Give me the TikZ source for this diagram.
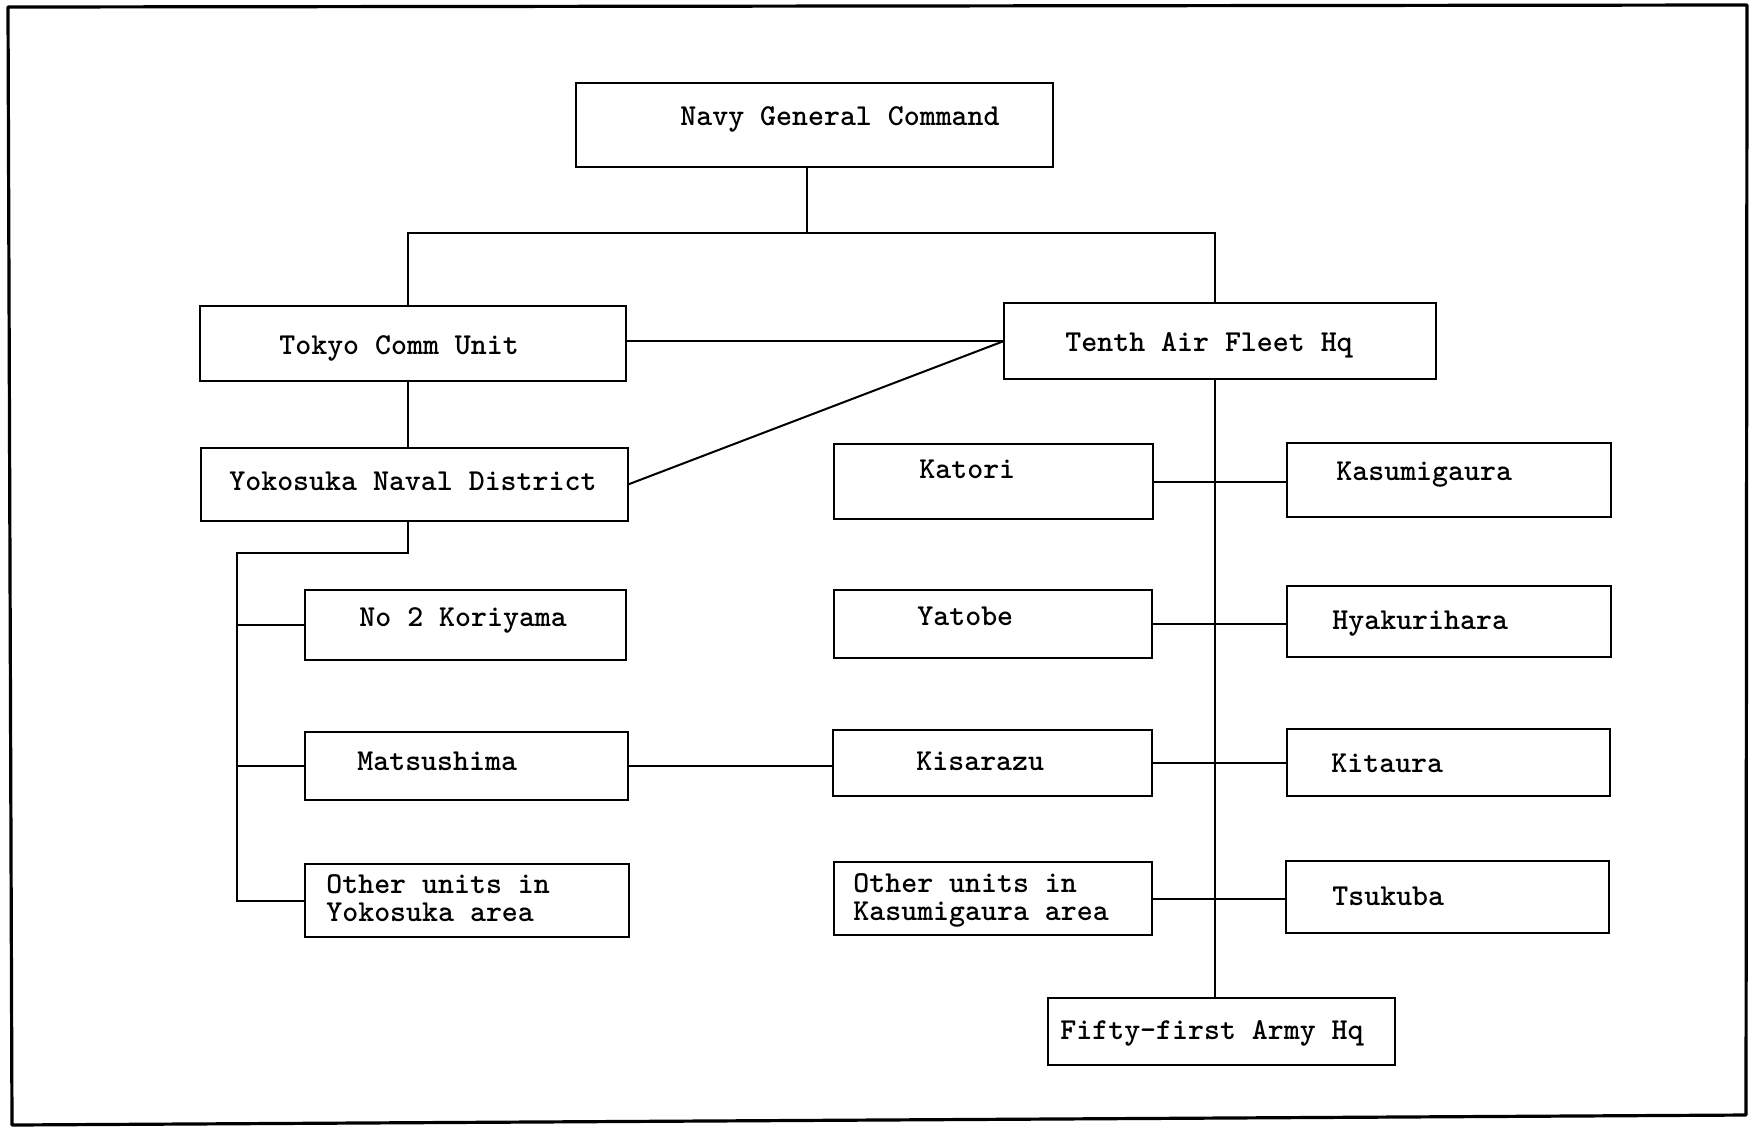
\documentclass[tikz,border=0pt]{standalone}
\usepackage{fontspec}
\newcommand\typewriterfont{\ttfamily\bfseries\fontsize{15.2}{14}\selectfont}
\begin{document}
\begin{tikzpicture}[x=0.5pt,y=-0.5pt,
  box/.style={draw, line width=1pt, rectangle, inner sep=0pt, outer sep=0pt},
  label text/.style={inner sep=0pt, anchor=west, text height=9.3pt, text depth=0pt,
    font=\typewriterfont},
  label two/.style={inner sep=0pt, anchor=north west, align=left, font=\typewriterfont},
  link/.style={line width=1pt},
  frame/.style={line width=1.6pt, line join=round}]
\useasboundingbox (0,0) rectangle (1754,1126);
\fill[white] (0,0) rectangle (1754,1126);
\draw[frame] (8,7) -- (1747,5) -- (1746,1115) -- (12,1125) -- cycle;

% boxes
\node[box, minimum width=238.5pt, minimum height=42pt]   (navy)   at (814.5,125) {};
\node[box, minimum width=213pt,   minimum height=37.5pt] (tokyo)  at (413,343.5) {};
\node[box, minimum width=216pt,   minimum height=38pt]   (tenth)  at (1220,341) {};
\node[box, minimum width=213.5pt, minimum height=36.5pt] (yoko)   at (414.5,484.5) {};
\node[box, minimum width=160.5pt, minimum height=35pt]   (kori)   at (465.5,625) {};
\node[box, minimum width=161.5pt, minimum height=34pt]   (matsu)  at (466.5,766) {};
\node[box, minimum width=162pt,   minimum height=36.5pt] (othery) at (467,900.5) {};
\node[box, minimum width=159.5pt, minimum height=37.5pt] (katori) at (993.5,481.5) {};
\node[box, minimum width=162pt,   minimum height=37pt]   (kasumi) at (1449,480) {};
\node[box, minimum width=159pt,   minimum height=34pt]   (yatobe) at (993,624) {};
\node[box, minimum width=162pt,   minimum height=35.5pt] (hyaku)  at (1449,621.5) {};
\node[box, minimum width=159.5pt, minimum height=33pt]   (kisa)   at (992.5,763) {};
\node[box, minimum width=161.5pt, minimum height=33.5pt] (kita)   at (1448.5,762.5) {};
\node[box, minimum width=159pt,   minimum height=36.5pt] (otherk) at (993,898.5) {};
\node[box, minimum width=161.5pt, minimum height=36pt]   (tsuku)  at (1447.5,897) {};
\node[box, minimum width=173.5pt, minimum height=33.5pt] (fifty)  at (1221.5,1031.5) {};

% texts
\node[label text] (t-navy)   at (680,116)  {Navy General Command};
\node[label text] (t-tokyo)  at (279,345)  {Tokyo Comm Unit};
\node[label text] (t-tenth)  at (1065,342) {Tenth Air Fleet Hq};
\node[label text] (t-yoko)   at (229,481)  {Yokosuka Naval District};
\node[label text] (t-kori)   at (359,617)  {No 2 Koriyama};
\node[label text] (t-matsu)  at (357,761)  {Matsushima};
\node[label two]  (t-othery) at (326,874)  {Other units in\\Yokosuka area};
\node[label text] (t-katori) at (919,469)  {Katori};
\node[label text] (t-kasumi) at (1336,471) {Kasumigaura};
\node[label text] (t-yatobe) at (917,616)  {Yatobe};
\node[label text] (t-hyaku)  at (1332,620) {Hyakurihara};
\node[label text] (t-kisa)   at (916,761)  {Kisarazu};
\node[label text] (t-kita)   at (1331,763) {Kitaura};
\node[label two]  (t-otherk) at (853,873)  {Other units in\\Kasumigaura area};
\node[label text] (t-tsuku)  at (1332,896) {Tsukuba};
\node[label text] (t-fifty)  at (1060,1030){Fifty-first Army Hq};

% branch points of the connector lines
\coordinate (navydrop) at (807,233);
\coordinate (busL) at (408,233);
\coordinate (busR) at (1215,233);
\coordinate (ltrunk) at (237,553);

% connectors
\draw[link] (navydrop |- navy.south) -- (navydrop);
\draw[link] (busL |- tokyo.north) -- (busL) -- (busR) -- (busR |- tenth.north);
\draw[link] (tokyo.east |- tenth.west) -- (tenth.west);
\draw[link] (yoko.east) -- (tenth.west);
\draw[link] (busL |- tokyo.south) -- (busL |- yoko.north);
\draw[link] (busL |- yoko.south) -- (busL |- ltrunk) -- (ltrunk) |- (othery.west);
\draw[link] (kori.west) -- (kori.west -| ltrunk);
\draw[link] (matsu.west) -- (matsu.west -| ltrunk);
\draw[link] (matsu.east) -- (matsu.east -| kisa.west);
\draw[link] (busR |- tenth.south) -- (busR |- fifty.north);
\draw[link] (katori.east) -- (katori.east -| kasumi.west);
\draw[link] (yatobe.east) -- (yatobe.east -| hyaku.west);
\draw[link] (kisa.east) -- (kisa.east -| kita.west);
\draw[link] (otherk.east) -- (otherk.east -| tsuku.west);
\end{tikzpicture}
\end{document}
